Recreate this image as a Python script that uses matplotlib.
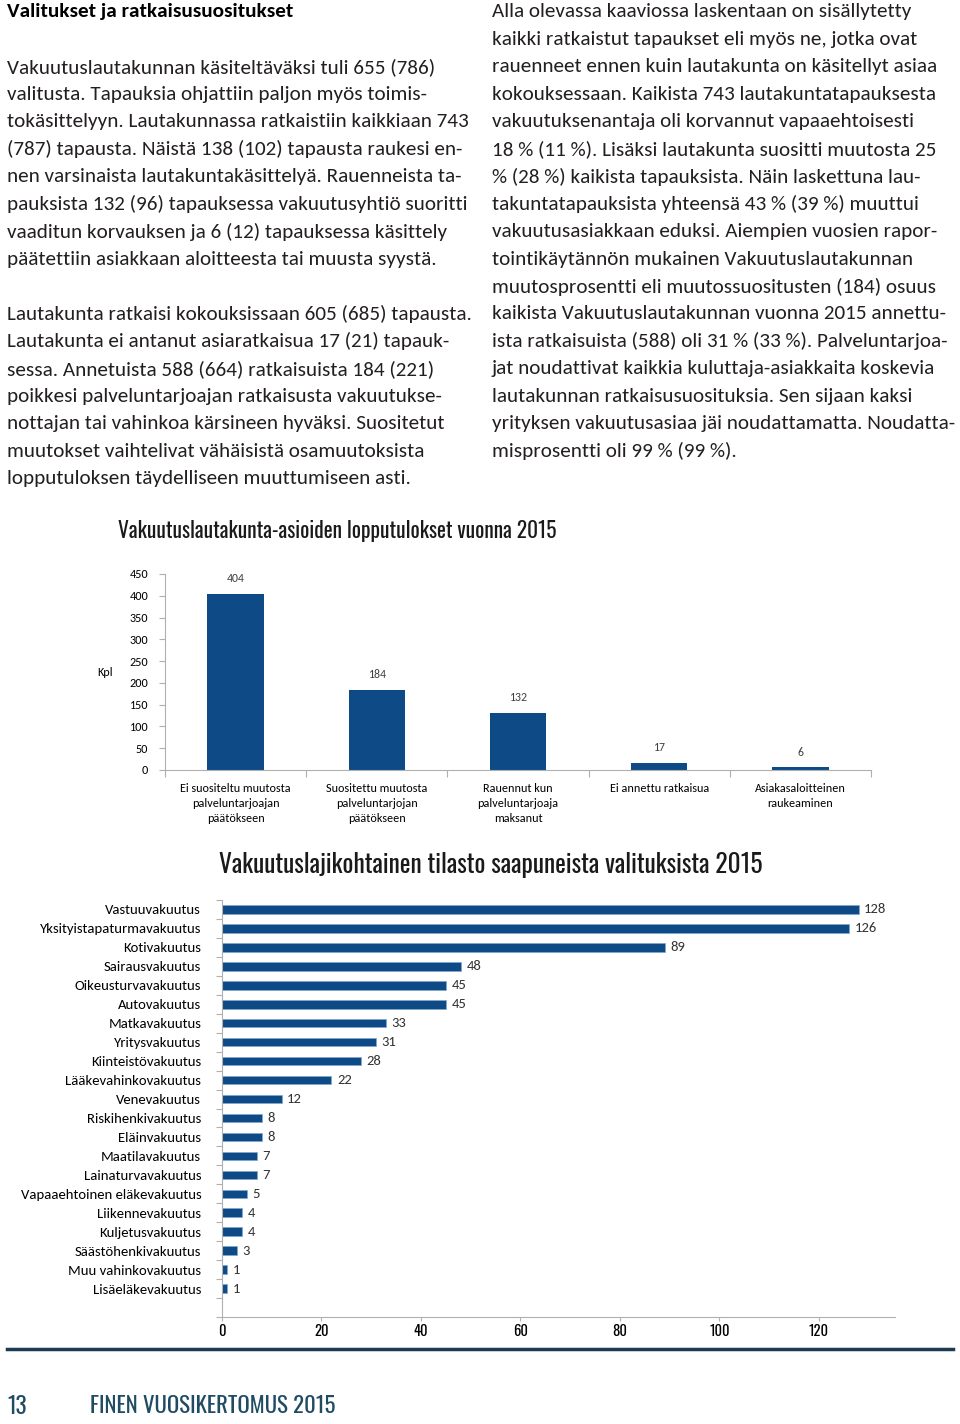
import matplotlib
matplotlib.use('Agg')
import matplotlib.pyplot as plt
from matplotlib import font_manager
from matplotlib.font_manager import FontProperties
from matplotlib.textpath import TextPath
from matplotlib.lines import Line2D

W, H, DPI = 960, 1424, 100

# --- data ---
outcome_labels = ['Ei suositeltu muutosta\npalveluntarjoajan\npäätökseen',
                  'Suositettu muutosta\npalveluntarjojan\npäätökseen',
                  'Rauennut kun\npalveluntarjoaja\nmaksanut',
                  'Ei annettu ratkaisua',
                  'Asiakasaloitteinen\nraukeaminen']
outcome_values = [404, 184, 132, 17, 6]
outcome_ticks = [0, 50, 100, 150, 200, 250, 300, 350, 400, 450]

insurance_types = ['Vastuuvakuutus', 'Yksityistapaturmavakuutus', 'Kotivakuutus',
                   'Sairausvakuutus', 'Oikeusturvavakuutus', 'Autovakuutus',
                   'Matkavakuutus', 'Yritysvakuutus', 'Kiinteistövakuutus',
                   'Lääkevahinkovakuutus', 'Venevakuutus', 'Riskihenkivakuutus',
                   'Eläinvakuutus', 'Maatilavakuutus', 'Lainaturvavakuutus',
                   'Vapaaehtoinen eläkevakuutus', 'Liikennevakuutus',
                   'Kuljetusvakuutus', 'Säästöhenkivakuutus', 'Muu vahinkovakuutus',
                   'Lisäeläkevakuutus']
type_counts = [128, 126, 89, 48, 45, 45, 33, 31, 28, 22, 12, 8, 8, 7, 7, 5, 4, 4, 3, 1, 1]
type_ticks = [0, 20, 40, 60, 80, 100, 120]

heading = 'Valitukset ja ratkaisusuositukset'
left_par1 = ['Vakuutuslautakunnan käsiteltäväksi tuli 655 (786)',
             'valitusta. Tapauksia ohjattiin paljon myös toimis-',
             'tokäsittelyyn. Lautakunnassa ratkaistiin kaikkiaan 743',
             '(787) tapausta. Näistä 138 (102) tapausta raukesi en-',
             'nen varsinaista lautakuntakäsittelyä. Rauenneista ta-',
             'pauksista 132 (96) tapauksessa vakuutusyhtiö suoritti',
             'vaaditun korvauksen ja 6 (12) tapauksessa käsittely',
             'päätettiin asiakkaan aloitteesta tai muusta syystä.']
left_par2 = ['Lautakunta ratkaisi kokouksissaan 605 (685) tapausta.',
             'Lautakunta ei antanut asiaratkaisua 17 (21) tapauk-',
             'sessa. Annetuista 588 (664) ratkaisuista 184 (221)',
             'poikkesi palveluntarjoajan ratkaisusta vakuutukse-',
             'nottajan tai vahinkoa kärsineen hyväksi. Suositetut',
             'muutokset vaihtelivat vähäisistä osamuutoksista',
             'lopputuloksen täydelliseen muuttumiseen asti.']
right_par = ['Alla olevassa kaaviossa laskentaan on sisällytetty',
             'kaikki ratkaistut tapaukset eli myös ne, jotka ovat',
             'rauenneet ennen kuin lautakunta on käsitellyt asiaa',
             'kokouksessaan. Kaikista 743 lautakuntatapauksesta',
             'vakuutuksenantaja oli korvannut vapaaehtoisesti',
             '18 % (11 %). Lisäksi lautakunta suositti muutosta 25',
             '% (28 %) kaikista tapauksista. Näin laskettuna lau-',
             'takuntatapauksista yhteensä 43 % (39 %) muuttui',
             'vakuutusasiakkaan eduksi. Aiempien vuosien rapor-',
             'tointikäytännön mukainen Vakuutuslautakunnan',
             'muutosprosentti eli muutossuositusten (184) osuus',
             'kaikista Vakuutuslautakunnan vuonna 2015 annettu-',
             'ista ratkaisuista (588) oli 31 % (33 %). Palveluntarjoa-',
             'jat noudattivat kaikkia kuluttaja-asiakkaita koskevia',
             'lautakunnan ratkaisusuosituksia. Sen sijaan kaksi',
             'yrityksen vakuutusasiaa jäi noudattamatta. Noudatta-',
             'misprosentti oli 99 % (99 %).']

# --- style ---
names = {f.name for f in font_manager.fontManager.ttflist}


def pick(*fams):
    for f in fams:
        if f in names:
            return f
    return 'DejaVu Sans'


sans = pick('Carlito', 'Lato', 'Open Sans')
narrow = pick('Oswald', 'Roboto Condensed', 'Open Sans Condensed', 'Liberation Sans Narrow', 'Lato')
blue = '#0d4a86'
grey_axis = '#b0b0b0'
text_col = '#231f20'
footer_col = '#1f4b63'
plt.rcParams['font.family'] = [sans, 'DejaVu Sans']


def fit_size(s, target_px, family, weight='normal'):
    # font size (pt) that makes string s about target_px wide
    w = TextPath((0, 0), s, size=100, prop=FontProperties(family=family, weight=weight)).get_extents().width
    return 100 * target_px / w * 72 / DPI


def fx(px):
    return px / W


def fy(py):
    return 1 - py / H


fig = plt.figure(figsize=(W / DPI, H / DPI), dpi=DPI)
fig.patch.set_facecolor('white')

# --- body text ---
body_size = fit_size(left_par2[0], 460, sans)
fig.text(fx(7), fy(12), heading, fontsize=fit_size(heading, 287, sans, 'bold'),
         fontweight='bold', color='black', va='center', ha='left')
step = 27.45
for i, line in enumerate(left_par1):
    fig.text(fx(7), fy(67 + i * step), line, fontsize=body_size, color=text_col, va='center')
for i, line in enumerate(left_par2):
    fig.text(fx(7), fy(314 + i * step), line, fontsize=body_size, color=text_col, va='center')
for i, line in enumerate(right_par):
    fig.text(fx(492), fy(12 + i * step), line, fontsize=body_size, color=text_col, va='center')

# --- chart 1: outcomes ---
title1 = 'Vakuutuslautakunta-asioiden lopputulokset vuonna 2015'
fig.text(fx(118), fy(531), title1, family=narrow, fontsize=fit_size(title1, 438, narrow),
         color='#1a1a1a', va='center')

ax1 = fig.add_axes([fx(165), fy(770), fx(871 - 165), (770 - 574) / H])
bars = ax1.bar(range(len(outcome_values)), outcome_values, width=0.4, color=blue)
ax1.bar_label(bars, padding=7, fontsize=8.5, color='#404040')
ax1.set_xlim(-0.5, len(outcome_values) - 0.5)
ax1.set_ylim(0, 450)
ax1.set_yticks(outcome_ticks)
ax1.set_xticks([i - 0.5 for i in range(len(outcome_values) + 1)])
ax1.set_xticklabels([])
ax1.set_xticks(range(len(outcome_values)), outcome_labels, minor=True)
ax1.tick_params(axis='x', which='minor', length=0, pad=9, labelsize=8.7)
ax1.tick_params(axis='x', which='major', direction='out', length=5, color=grey_axis)
ax1.tick_params(axis='y', direction='out', length=4, color=grey_axis, pad=8, labelsize=8.7)
for lab in ax1.get_xticklabels(minor=True):
    lab.set_linespacing(1.5)
for s in ['top', 'right']:
    ax1.spines[s].set_visible(False)
for s in ['left', 'bottom']:
    ax1.spines[s].set_color(grey_axis)
ax1.set_ylabel('Kpl', rotation=0, fontsize=8.7, va='center', labelpad=18)

# --- chart 2: insurance types ---
title2 = 'Vakuutuslajikohtainen tilasto saapuneista valituksista 2015'
fig.text(fx(219), fy(865), title2, family=narrow, fontsize=fit_size(title2, 543, narrow),
         color='#1a1a1a', va='center')

n = len(type_counts)
ax2 = fig.add_axes([fx(222), fy(1317), fx(895 - 222), (1317 - 900) / H])
hb = ax2.barh(range(n), type_counts, height=0.45, color=blue, edgecolor='#7fa7cf', linewidth=0.5)
ax2.bar_label(hb, padding=4, fontsize=10.5, color='#333333')
ax2.set_ylim(n + 0.5, -0.5)  # one empty slot below the last bar
ax2.set_xlim(0, 135.3)
ax2.set_xticks(type_ticks)
ax2.set_yticks([i - 0.5 for i in range(n + 2)])
ax2.set_yticklabels([])
ax2.set_yticks(range(n), insurance_types, minor=True)
ax2.tick_params(axis='y', which='minor', length=0, pad=15, labelsize=10.6)
ax2.tick_params(axis='y', which='major', direction='out', length=4, color=grey_axis)
ax2.tick_params(axis='x', direction='out', length=3, color=grey_axis, pad=2, labelsize=10.5)
for lab in ax2.get_xticklabels():
    lab.set_family(narrow)
for s in ['top', 'right']:
    ax2.spines[s].set_visible(False)
for s in ['left', 'bottom']:
    ax2.spines[s].set_color(grey_axis)

# --- footer ---
fig.add_artist(Line2D([fx(7), fx(953)], [fy(1349), fy(1349)], color='#1d3b50', lw=2.5))
fig.text(fx(7), fy(1406), '13', family=narrow, fontsize=fit_size('13', 18, narrow),
         color=footer_col, va='center')
footer = 'FINEN VUOSIKERTOMUS 2015'
fig.text(fx(90), fy(1406), footer, family=narrow, fontsize=fit_size(footer, 243, narrow),
         color=footer_col, va='center')

fig.savefig('out.png', dpi=DPI)
